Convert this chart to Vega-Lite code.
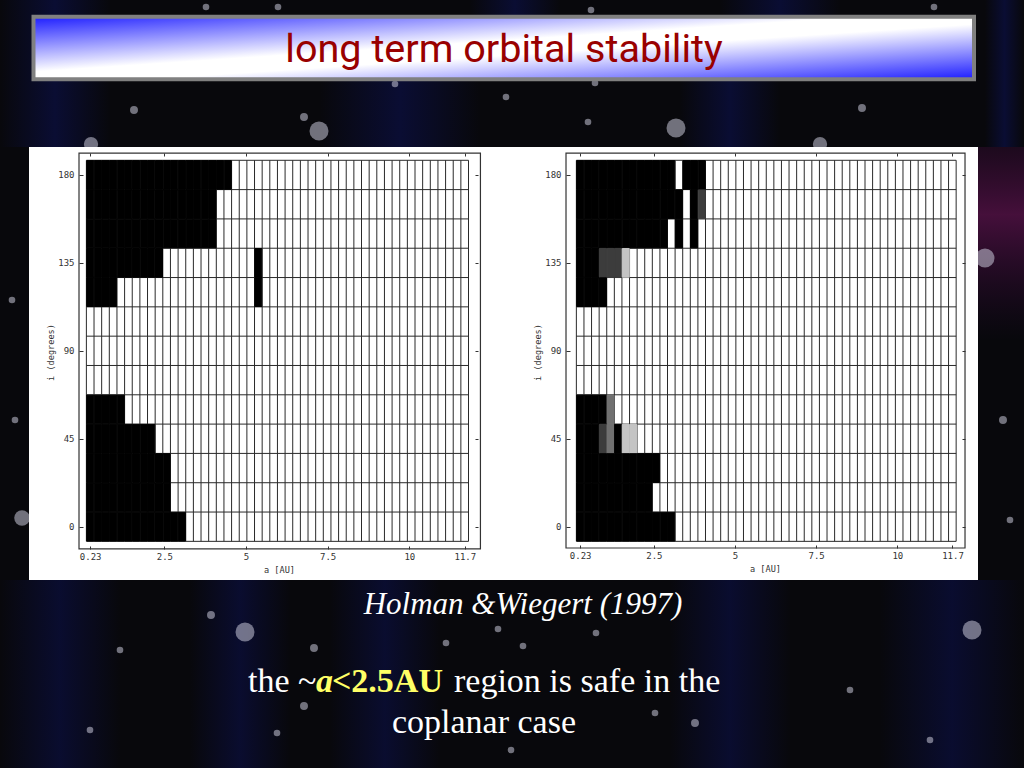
{
"$schema":"https://vega.github.io/schema/vega-lite/v6.json",
"padding":0,
"background":"#08080c",
"spacing":0,
"config":{"view":{"stroke":null},"concat":{"spacing":0}},
"datasets":{
"edges":[{"e":0.113},{"e":0.347},{"e":0.581},{"e":0.815},{"e":1.049},{"e":1.283},{"e":1.517},{"e":1.751},{"e":1.985},{"e":2.219},{"e":2.453},{"e":2.687},{"e":2.921},{"e":3.155},{"e":3.389},{"e":3.623},{"e":3.857},{"e":4.091},{"e":4.325},{"e":4.559},{"e":4.793},{"e":5.027},{"e":5.261},{"e":5.495},{"e":5.729},{"e":5.963},{"e":6.197},{"e":6.431},{"e":6.665},{"e":6.899},{"e":7.133},{"e":7.367},{"e":7.601},{"e":7.835},{"e":8.069},{"e":8.303},{"e":8.537},{"e":8.771},{"e":9.005},{"e":9.239},{"e":9.473},{"e":9.707},{"e":9.941},{"e":10.175},{"e":10.409},{"e":10.643},{"e":10.877},{"e":11.111},{"e":11.345},{"e":11.579},{"e":11.813}],
"levels":[{"b":-7.5},{"b":7.5},{"b":22.5},{"b":37.5},{"b":52.5},{"b":67.5},{"b":82.5},{"b":97.5},{"b":112.5},{"b":127.5},{"b":142.5},{"b":157.5},{"b":172.5},{"b":187.5}],
"stars":[{"sx":319,"sy":131,"m":18},{"sx":676,"sy":128,"m":18},{"sx":91,"sy":144,"m":10},{"sx":820,"sy":144,"m":10},{"sx":304,"sy":117,"m":3},{"sx":134,"sy":110,"m":3},{"sx":506,"sy":97,"m":2},{"sx":588,"sy":122,"m":2},{"sx":862,"sy":108,"m":3},{"sx":395,"sy":84,"m":2},{"sx":595,"sy":83,"m":2},{"sx":278,"sy":7,"m":2},{"sx":591,"sy":10,"m":2},{"sx":934,"sy":7,"m":2},{"sx":206,"sy":7,"m":2},{"sx":245,"sy":632,"m":18},{"sx":972,"sy":630,"m":18},{"sx":22,"sy":518,"m":12},{"sx":985,"sy":258,"m":18},{"sx":314,"sy":648,"m":3},{"sx":446,"sy":643,"m":2},{"sx":523,"sy":646,"m":2},{"sx":498,"sy":629,"m":2},{"sx":596,"sy":633,"m":2},{"sx":304,"sy":706,"m":3},{"sx":695,"sy":723,"m":3},{"sx":655,"sy":713,"m":2},{"sx":277,"sy":733,"m":2},{"sx":511,"sy":750,"m":2},{"sx":211,"sy":615,"m":3},{"sx":12,"sy":300,"m":2},{"sx":15,"sy":420,"m":2},{"sx":1003,"sy":420,"m":3},{"sx":1010,"sy":520,"m":2},{"sx":120,"sy":650,"m":2},{"sx":850,"sy":690,"m":2},{"sx":90,"sy":730,"m":2},{"sx":930,"sy":740,"m":2}],
"bandsTop":[{"x0":0,"x1":110,"y0":0,"y1":147},{"x0":320,"x1":480,"y0":50,"y1":147},{"x0":680,"x1":780,"y0":50,"y1":147},{"x0":720,"x1":840,"y0":0,"y1":50},{"x0":470,"x1":560,"y0":0,"y1":50},{"x0":985,"x1":1024,"y0":0,"y1":147}],
"bandsBottom":[{"x0":0,"x1":120,"y0":580,"y1":768},{"x0":190,"x1":290,"y0":580,"y1":768},{"x0":330,"x1":440,"y0":580,"y1":768},{"x0":670,"x1":790,"y0":580,"y1":768},{"x0":880,"x1":1024,"y0":580,"y1":768}],
"leftCells":[
{"a":0.23,"i":180},{"a":0.464,"i":180},{"a":0.698,"i":180},{"a":0.932,"i":180},{"a":1.166,"i":180},{"a":1.4,"i":180},{"a":1.634,"i":180},{"a":1.868,"i":180},{"a":2.102,"i":180},{"a":2.336,"i":180},{"a":2.57,"i":180},{"a":2.804,"i":180},{"a":3.038,"i":180},{"a":3.272,"i":180},{"a":3.506,"i":180},{"a":3.74,"i":180},{"a":3.974,"i":180},{"a":4.208,"i":180},{"a":4.442,"i":180},
{"a":0.23,"i":165},{"a":0.464,"i":165},{"a":0.698,"i":165},{"a":0.932,"i":165},{"a":1.166,"i":165},{"a":1.4,"i":165},{"a":1.634,"i":165},{"a":1.868,"i":165},{"a":2.102,"i":165},{"a":2.336,"i":165},{"a":2.57,"i":165},{"a":2.804,"i":165},{"a":3.038,"i":165},{"a":3.272,"i":165},{"a":3.506,"i":165},{"a":3.74,"i":165},{"a":3.974,"i":165},
{"a":0.23,"i":150},{"a":0.464,"i":150},{"a":0.698,"i":150},{"a":0.932,"i":150},{"a":1.166,"i":150},{"a":1.4,"i":150},{"a":1.634,"i":150},{"a":1.868,"i":150},{"a":2.102,"i":150},{"a":2.336,"i":150},{"a":2.57,"i":150},{"a":2.804,"i":150},{"a":3.038,"i":150},{"a":3.272,"i":150},{"a":3.506,"i":150},{"a":3.74,"i":150},{"a":3.974,"i":150},
{"a":0.23,"i":135},{"a":0.464,"i":135},{"a":0.698,"i":135},{"a":0.932,"i":135},{"a":1.166,"i":135},{"a":1.4,"i":135},{"a":1.634,"i":135},{"a":1.868,"i":135},{"a":2.102,"i":135},{"a":2.336,"i":135},{"a":5.378,"i":135},
{"a":0.23,"i":120},{"a":0.464,"i":120},{"a":0.698,"i":120},{"a":0.932,"i":120},{"a":5.378,"i":120},
{"a":0.23,"i":60},{"a":0.464,"i":60},{"a":0.698,"i":60},{"a":0.932,"i":60},{"a":1.166,"i":60},
{"a":0.23,"i":45},{"a":0.464,"i":45},{"a":0.698,"i":45},{"a":0.932,"i":45},{"a":1.166,"i":45},{"a":1.4,"i":45},{"a":1.634,"i":45},{"a":1.868,"i":45},{"a":2.102,"i":45},
{"a":0.23,"i":30},{"a":0.464,"i":30},{"a":0.698,"i":30},{"a":0.932,"i":30},{"a":1.166,"i":30},{"a":1.4,"i":30},{"a":1.634,"i":30},{"a":1.868,"i":30},{"a":2.102,"i":30},{"a":2.336,"i":30},{"a":2.57,"i":30},
{"a":0.23,"i":15},{"a":0.464,"i":15},{"a":0.698,"i":15},{"a":0.932,"i":15},{"a":1.166,"i":15},{"a":1.4,"i":15},{"a":1.634,"i":15},{"a":1.868,"i":15},{"a":2.102,"i":15},{"a":2.336,"i":15},{"a":2.57,"i":15},
{"a":0.23,"i":0},{"a":0.464,"i":0},{"a":0.698,"i":0},{"a":0.932,"i":0},{"a":1.166,"i":0},{"a":1.4,"i":0},{"a":1.634,"i":0},{"a":1.868,"i":0},{"a":2.102,"i":0},{"a":2.336,"i":0},{"a":2.57,"i":0},{"a":2.804,"i":0},{"a":3.038,"i":0}
],
"rightCells":[
{"a":0.23,"i":180,"s":"u"},{"a":0.464,"i":180,"s":"u"},{"a":0.698,"i":180,"s":"u"},{"a":0.932,"i":180,"s":"u"},{"a":1.166,"i":180,"s":"u"},{"a":1.4,"i":180,"s":"u"},{"a":1.634,"i":180,"s":"u"},{"a":1.868,"i":180,"s":"u"},{"a":2.102,"i":180,"s":"u"},{"a":2.336,"i":180,"s":"u"},{"a":2.57,"i":180,"s":"u"},{"a":2.804,"i":180,"s":"u"},{"a":3.038,"i":180,"s":"u"},{"a":3.506,"i":180,"s":"u"},{"a":3.74,"i":180,"s":"u"},{"a":3.974,"i":180,"s":"u"},
{"a":0.23,"i":165,"s":"u"},{"a":0.464,"i":165,"s":"u"},{"a":0.698,"i":165,"s":"u"},{"a":0.932,"i":165,"s":"u"},{"a":1.166,"i":165,"s":"u"},{"a":1.4,"i":165,"s":"u"},{"a":1.634,"i":165,"s":"u"},{"a":1.868,"i":165,"s":"u"},{"a":2.102,"i":165,"s":"u"},{"a":2.336,"i":165,"s":"u"},{"a":2.57,"i":165,"s":"u"},{"a":2.804,"i":165,"s":"u"},{"a":3.038,"i":165,"s":"u"},{"a":3.272,"i":165,"s":"u"},{"a":3.74,"i":165,"s":"u"},{"a":3.974,"i":165,"s":"d"},
{"a":0.23,"i":150,"s":"u"},{"a":0.464,"i":150,"s":"u"},{"a":0.698,"i":150,"s":"u"},{"a":0.932,"i":150,"s":"u"},{"a":1.166,"i":150,"s":"u"},{"a":1.4,"i":150,"s":"u"},{"a":1.634,"i":150,"s":"u"},{"a":1.868,"i":150,"s":"u"},{"a":2.102,"i":150,"s":"u"},{"a":2.336,"i":150,"s":"u"},{"a":2.57,"i":150,"s":"u"},{"a":2.804,"i":150,"s":"u"},{"a":3.272,"i":150,"s":"u"},{"a":3.74,"i":150,"s":"u"},
{"a":0.23,"i":135,"s":"u"},{"a":0.464,"i":135,"s":"u"},{"a":0.698,"i":135,"s":"u"},{"a":0.932,"i":135,"s":"d"},{"a":1.166,"i":135,"s":"d"},{"a":1.4,"i":135,"s":"d"},{"a":1.634,"i":135,"s":"l"},
{"a":0.23,"i":120,"s":"u"},{"a":0.464,"i":120,"s":"u"},{"a":0.698,"i":120,"s":"u"},{"a":0.932,"i":120,"s":"u"},
{"a":0.23,"i":60,"s":"u"},{"a":0.464,"i":60,"s":"u"},{"a":0.698,"i":60,"s":"u"},{"a":0.932,"i":60,"s":"u"},{"a":1.166,"i":60,"s":"m"},
{"a":0.23,"i":45,"s":"u"},{"a":0.464,"i":45,"s":"u"},{"a":0.698,"i":45,"s":"u"},{"a":0.932,"i":45,"s":"d"},{"a":1.166,"i":45,"s":"m"},{"a":1.4,"i":45,"s":"u"},{"a":1.634,"i":45,"s":"l"},{"a":1.868,"i":45,"s":"l"},
{"a":0.23,"i":30,"s":"u"},{"a":0.464,"i":30,"s":"u"},{"a":0.698,"i":30,"s":"u"},{"a":0.932,"i":30,"s":"u"},{"a":1.166,"i":30,"s":"u"},{"a":1.4,"i":30,"s":"u"},{"a":1.634,"i":30,"s":"u"},{"a":1.868,"i":30,"s":"u"},{"a":2.102,"i":30,"s":"u"},{"a":2.336,"i":30,"s":"u"},{"a":2.57,"i":30,"s":"u"},
{"a":0.23,"i":15,"s":"u"},{"a":0.464,"i":15,"s":"u"},{"a":0.698,"i":15,"s":"u"},{"a":0.932,"i":15,"s":"u"},{"a":1.166,"i":15,"s":"u"},{"a":1.4,"i":15,"s":"u"},{"a":1.634,"i":15,"s":"u"},{"a":1.868,"i":15,"s":"u"},{"a":2.102,"i":15,"s":"u"},{"a":2.336,"i":15,"s":"u"},
{"a":0.23,"i":0,"s":"u"},{"a":0.464,"i":0,"s":"u"},{"a":0.698,"i":0,"s":"u"},{"a":0.932,"i":0,"s":"u"},{"a":1.166,"i":0,"s":"u"},{"a":1.4,"i":0,"s":"u"},{"a":1.634,"i":0,"s":"u"},{"a":1.868,"i":0,"s":"u"},{"a":2.102,"i":0,"s":"u"},{"a":2.336,"i":0,"s":"u"},{"a":2.57,"i":0,"s":"u"},{"a":2.804,"i":0,"s":"u"},{"a":3.038,"i":0,"s":"u"}
]
},
"vconcat":[
{"width":1024,"height":147,"layer":[
{"data":{"name":"bandsTop"},"mark":{"type":"rect","clip":true,"fill":{"gradient":"linear","x1":0,"y1":0,"x2":1,"y2":0,"stops":[{"offset":0,"color":"rgba(12,18,90,0)"},{"offset":0.5,"color":"rgba(12,18,90,0.5)"},{"offset":1,"color":"rgba(12,18,90,0)"}]}},"encoding":{"x":{"field":"x0","type":"quantitative","scale":{"domain":[0,1024]},"axis":null},"x2":{"field":"x1"},"y":{"field":"y0","type":"quantitative","scale":{"domain":[147,0]},"axis":null},"y2":{"field":"y1"}}},
{"data":{"name":"stars"},"mark":{"type":"circle","color":"#c8c8d8","opacity":0.55,"clip":true},"encoding":{"x":{"field":"sx","type":"quantitative","scale":{"domain":[0,1024]},"axis":null},"y":{"field":"sy","type":"quantitative","scale":{"domain":[147,0]},"axis":null},"size":{"field":"m","type":"quantitative","scale":{"type":"identity"}}}},
{"data":{"values":[{"panel":"title"}]},"mark":{"type":"rect","stroke":"#808080","strokeWidth":4,"fill":{"gradient":"linear","x1":0,"y1":0,"x2":1,"y2":1,"stops":[{"offset":0,"color":"#1c1cff"},{"offset":0.44,"color":"#ffffff"},{"offset":0.56,"color":"#ffffff"},{"offset":1,"color":"#1c1cff"}]}},"encoding":{"x":{"datum":33.5,"type":"quantitative","scale":{"domain":[0,1024]},"axis":null},"x2":{"datum":974},"y":{"datum":16.7,"type":"quantitative","scale":{"domain":[147,0]},"axis":null},"y2":{"datum":79.3}}},
{"data":{"values":[{"label":"long term orbital stability"}]},"mark":{"type":"text","font":"Roboto","fontSize":39.6,"color":"#990000","align":"center","baseline":"alphabetic"},"encoding":{"text":{"field":"label"},"x":{"datum":504,"type":"quantitative","scale":{"domain":[0,1024]},"axis":null},"y":{"datum":62,"type":"quantitative","scale":{"domain":[147,0]},"axis":null}}}
]},
{"hconcat":[
{"width":29,"height":433,"data":{"name":"stars"},"mark":{"type":"circle","color":"#c8c8d8","opacity":0.55,"clip":true},"encoding":{"x":{"field":"sx","type":"quantitative","scale":{"domain":[0,29]},"axis":null},"y":{"field":"sy","type":"quantitative","scale":{"domain":[580,147]},"axis":null},"size":{"field":"m","type":"quantitative","scale":{"type":"identity"}}}},
{"width":474,"height":433,"view":{"fill":"#ffffff","stroke":null},"resolve":{"axis":{"x":"independent","y":"independent"}},"layer":[
{"data":{"name":"edges"},"mark":{"type":"rule","stroke":"#2a2a2a","strokeWidth":1},"encoding":{"x":{"field":"e","type":"quantitative","scale":{"domain":[-1.644,12.869],"zero":false,"nice":false},"axis":{"orient":"bottom","offset":-31,"values":[0.23,2.5,5,7.5,10,11.7],"labelExpr":"''+datum.value","domain":false,"grid":false,"tickSize":-3,"tickColor":"#333","labelFont":"DejaVu Sans Mono","labelFontSize":9,"labelColor":"#333","labelPadding":6,"labelOverlap":false,"labelFlush":false,"labelBound":false,"title":"a [AU]","titleFont":"DejaVu Sans Mono","titleFontSize":8.6,"titleFontWeight":"normal","titleColor":"#333","titleX":250,"titleY":16}},"y":{"datum":-7.5,"type":"quantitative","scale":{"domain":[-27.28,194.3],"zero":false,"nice":false},"axis":null},"y2":{"datum":187.5}}},
{"data":{"name":"levels"},"mark":{"type":"rule","stroke":"#2a2a2a","strokeWidth":1},"encoding":{"y":{"field":"b","type":"quantitative","scale":{"domain":[-27.28,194.3],"zero":false,"nice":false},"axis":{"orient":"left","offset":-50,"values":[0,45,90,135,180],"domain":false,"grid":false,"tickSize":-4,"tickColor":"#333","labelFont":"DejaVu Sans Mono","labelFontSize":9,"labelColor":"#333","labelPadding":9,"labelOverlap":false,"labelBound":false,"title":"i (degrees)","titleFont":"DejaVu Sans Mono","titleFontSize":8.6,"titleFontWeight":"normal","titleColor":"#333","titleX":-24,"titleY":205}},"x":{"datum":0.113,"type":"quantitative","scale":{"domain":[-1.644,12.869],"zero":false,"nice":false},"axis":null},"x2":{"datum":11.813}}},
{"data":{"name":"leftCells"},"mark":{"type":"rect","fill":"#000000","stroke":"#000000","strokeWidth":1,"width":7,"height":28.7},"encoding":{"x":{"field":"a","type":"quantitative","scale":{"domain":[-1.644,12.869],"zero":false,"nice":false},"axis":null},"y":{"field":"i","type":"quantitative","scale":{"domain":[-27.28,194.3],"zero":false,"nice":false},"axis":null}}},
{"data":{"values":[{"a0":-0.113,"a1":12.178,"i0":-11.4,"i1":191.2}]},"mark":{"type":"rect","fill":null,"stroke":"#333333","strokeWidth":1.2},"encoding":{"x":{"field":"a0","type":"quantitative","scale":{"domain":[-1.644,12.869],"zero":false,"nice":false},"axis":{"orient":"top","offset":-6,"values":[0.23,2.5,5,7.5,10,11.7],"labels":false,"domain":false,"grid":false,"tickSize":-3,"tickColor":"#333","title":null}},"x2":{"field":"a1"},"y":{"field":"i0","type":"quantitative","scale":{"domain":[-27.28,194.3],"zero":false,"nice":false},"axis":{"orient":"right","offset":-25,"values":[0,45,90,135,180],"labels":false,"domain":false,"grid":false,"tickSize":-3,"tickColor":"#333","title":null}},"y2":{"field":"i1"}}}
]},
{"width":475,"height":433,"view":{"fill":"#ffffff","stroke":null},"resolve":{"axis":{"x":"independent","y":"independent"}},"layer":[
{"data":{"name":"edges"},"mark":{"type":"rule","stroke":"#2a2a2a","strokeWidth":1},"encoding":{"x":{"field":"e","type":"quantitative","scale":{"domain":[-2.147,12.486],"zero":false,"nice":false},"axis":{"orient":"bottom","offset":-32,"values":[0.23,2.5,5,7.5,10,11.7],"labelExpr":"''+datum.value","domain":false,"grid":false,"tickSize":-3,"tickColor":"#333","labelFont":"DejaVu Sans Mono","labelFontSize":9,"labelColor":"#333","labelPadding":6,"labelOverlap":false,"labelFlush":false,"labelBound":false,"title":"a [AU]","titleFont":"DejaVu Sans Mono","titleFontSize":8.6,"titleFontWeight":"normal","titleColor":"#333","titleX":262,"titleY":16}},"y":{"datum":-7.5,"type":"quantitative","scale":{"domain":[-27.28,194.3],"zero":false,"nice":false},"axis":null},"y2":{"datum":187.5}}},
{"data":{"name":"levels"},"mark":{"type":"rule","stroke":"#2a2a2a","strokeWidth":1},"encoding":{"y":{"field":"b","type":"quantitative","scale":{"domain":[-27.28,194.3],"zero":false,"nice":false},"axis":{"orient":"left","offset":-63,"values":[0,45,90,135,180],"domain":false,"grid":false,"tickSize":-4,"tickColor":"#333","labelFont":"DejaVu Sans Mono","labelFontSize":9,"labelColor":"#333","labelPadding":9,"labelOverlap":false,"labelBound":false,"title":"i (degrees)","titleFont":"DejaVu Sans Mono","titleFontSize":8.6,"titleFontWeight":"normal","titleColor":"#333","titleX":-24,"titleY":205}},"x":{"datum":0.113,"type":"quantitative","scale":{"domain":[-2.147,12.486],"zero":false,"nice":false},"axis":null},"x2":{"datum":11.813}}},
{"data":{"name":"rightCells"},"mark":{"type":"rect","strokeWidth":1,"width":7,"height":28.7},"encoding":{"x":{"field":"a","type":"quantitative","scale":{"domain":[-2.147,12.486],"zero":false,"nice":false},"axis":null},"y":{"field":"i","type":"quantitative","scale":{"domain":[-27.28,194.3],"zero":false,"nice":false},"axis":null},"fill":{"field":"s","type":"nominal","legend":null,"scale":{"domain":["u","d","m","l"],"range":["#000000","#3c3c3c","#707070","#c4c4c4"]}},"stroke":{"field":"s","type":"nominal","legend":null,"scale":{"domain":["u","d","m","l"],"range":["#000000","#3c3c3c","#707070","#c4c4c4"]}}}},
{"data":{"values":[{"a0":-0.206,"a1":12.086,"i0":-10.9,"i1":191.2}]},"mark":{"type":"rect","fill":null,"stroke":"#333333","strokeWidth":1.2},"encoding":{"x":{"field":"a0","type":"quantitative","scale":{"domain":[-2.147,12.486],"zero":false,"nice":false},"axis":{"orient":"top","offset":-6,"values":[0.23,2.5,5,7.5,10,11.7],"labels":false,"domain":false,"grid":false,"tickSize":-3,"tickColor":"#333","title":null}},"x2":{"field":"a1"},"y":{"field":"i0","type":"quantitative","scale":{"domain":[-27.28,194.3],"zero":false,"nice":false},"axis":{"orient":"right","offset":-13,"values":[0,45,90,135,180],"labels":false,"domain":false,"grid":false,"tickSize":-3,"tickColor":"#333","title":null}},"y2":{"field":"i1"}}}
]},
{"width":46,"height":433,"layer":[
{"data":{"values":[{"x0":978,"x1":1024,"y0":147,"y1":340}]},"mark":{"type":"rect","clip":true,"fill":{"gradient":"linear","x1":0.5,"y1":0,"x2":0.5,"y2":1,"stops":[{"offset":0,"color":"rgba(90,15,80,0.25)"},{"offset":0.35,"color":"rgba(110,20,90,0.6)"},{"offset":1,"color":"rgba(60,10,70,0)"}]}},"encoding":{"x":{"field":"x0","type":"quantitative","scale":{"domain":[978,1024]},"axis":null},"x2":{"field":"x1"},"y":{"field":"y0","type":"quantitative","scale":{"domain":[580,147]},"axis":null},"y2":{"field":"y1"}}},
{"data":{"name":"stars"},"mark":{"type":"circle","color":"#c8c8d8","opacity":0.55,"clip":true},"encoding":{"x":{"field":"sx","type":"quantitative","scale":{"domain":[978,1024]},"axis":null},"y":{"field":"sy","type":"quantitative","scale":{"domain":[580,147]},"axis":null},"size":{"field":"m","type":"quantitative","scale":{"type":"identity"}}}}
]}
]},
{"width":1024,"height":188,"layer":[
{"data":{"name":"bandsBottom"},"mark":{"type":"rect","clip":true,"fill":{"gradient":"linear","x1":0,"y1":0,"x2":1,"y2":0,"stops":[{"offset":0,"color":"rgba(12,18,90,0)"},{"offset":0.5,"color":"rgba(12,18,90,0.45)"},{"offset":1,"color":"rgba(12,18,90,0)"}]}},"encoding":{"x":{"field":"x0","type":"quantitative","scale":{"domain":[0,1024]},"axis":null},"x2":{"field":"x1"},"y":{"field":"y0","type":"quantitative","scale":{"domain":[768,580]},"axis":null},"y2":{"field":"y1"}}},
{"data":{"name":"stars"},"mark":{"type":"circle","color":"#c8c8d8","opacity":0.55,"clip":true},"encoding":{"x":{"field":"sx","type":"quantitative","scale":{"domain":[0,1024]},"axis":null},"y":{"field":"sy","type":"quantitative","scale":{"domain":[768,580]},"axis":null},"size":{"field":"m","type":"quantitative","scale":{"type":"identity"}}}},
{"data":{"values":[{"label":"Holman &Wiegert (1997)"}]},"mark":{"type":"text","font":"Liberation Serif","fontStyle":"italic","fontSize":31,"color":"#ffffff","align":"center","baseline":"alphabetic"},"encoding":{"text":{"field":"label"},"x":{"datum":523,"type":"quantitative","scale":{"domain":[0,1024]},"axis":null},"y":{"datum":614,"type":"quantitative","scale":{"domain":[768,580]},"axis":null}}},
{"data":{"values":[{"label":"the ~"}]},"mark":{"type":"text","font":"Liberation Serif","fontSize":34,"color":"#ffffff","align":"left","baseline":"alphabetic"},"encoding":{"text":{"field":"label"},"x":{"datum":248,"type":"quantitative","scale":{"domain":[0,1024]},"axis":null},"y":{"datum":692,"type":"quantitative","scale":{"domain":[768,580]},"axis":null}}},
{"data":{"values":[{"label":"a"}]},"mark":{"type":"text","font":"Liberation Serif","fontSize":34,"fontStyle":"italic","fontWeight":"bold","color":"#ffff66","align":"left","baseline":"alphabetic"},"encoding":{"text":{"field":"label"},"x":{"datum":316,"type":"quantitative","scale":{"domain":[0,1024]},"axis":null},"y":{"datum":692,"type":"quantitative","scale":{"domain":[768,580]},"axis":null}}},
{"data":{"values":[{"label":"<2.5AU"}]},"mark":{"type":"text","font":"Liberation Serif","fontSize":34,"fontWeight":"bold","color":"#ffff66","align":"left","baseline":"alphabetic"},"encoding":{"text":{"field":"label"},"x":{"datum":332,"type":"quantitative","scale":{"domain":[0,1024]},"axis":null},"y":{"datum":692,"type":"quantitative","scale":{"domain":[768,580]},"axis":null}}},
{"data":{"values":[{"label":"region is safe in the"}]},"mark":{"type":"text","font":"Liberation Serif","fontSize":34,"color":"#ffffff","align":"left","baseline":"alphabetic"},"encoding":{"text":{"field":"label"},"x":{"datum":454,"type":"quantitative","scale":{"domain":[0,1024]},"axis":null},"y":{"datum":692,"type":"quantitative","scale":{"domain":[768,580]},"axis":null}}},
{"data":{"values":[{"label":"coplanar case"}]},"mark":{"type":"text","font":"Liberation Serif","fontSize":34,"color":"#ffffff","align":"center","baseline":"alphabetic"},"encoding":{"text":{"field":"label"},"x":{"datum":484,"type":"quantitative","scale":{"domain":[0,1024]},"axis":null},"y":{"datum":733,"type":"quantitative","scale":{"domain":[768,580]},"axis":null}}}
]}
]
}
